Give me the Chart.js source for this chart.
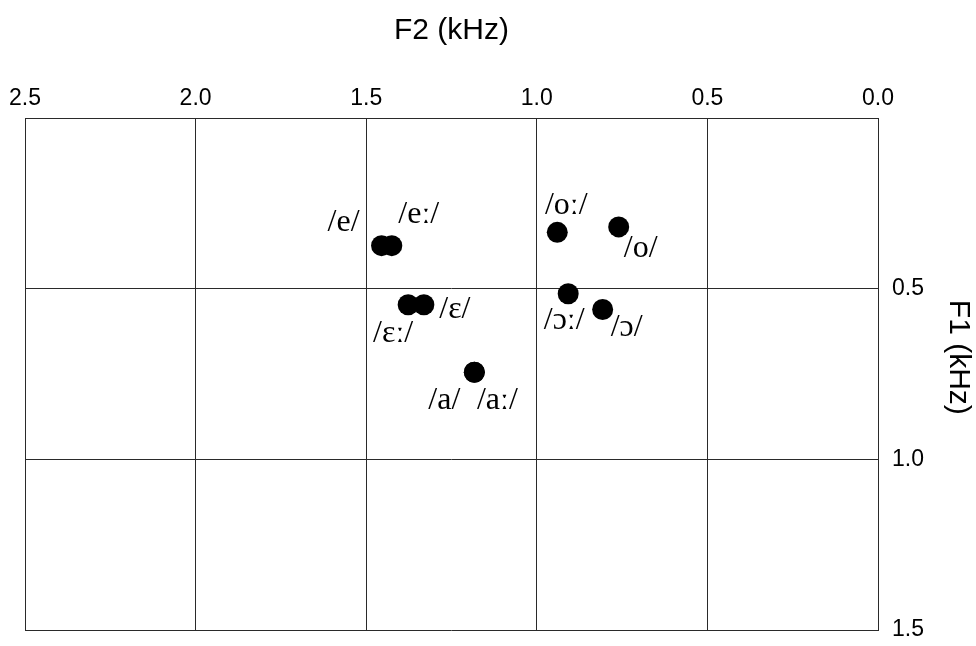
<!DOCTYPE html>
<html>
<head>
<meta charset="utf-8">
<script src="https://cdn.jsdelivr.net/npm/chart.js@4.4.1/dist/chart.umd.min.js"></script>
<style>
  html, body { margin: 0; padding: 0; background: #fff; }
  #wrap { width: 976px; height: 646px; position: relative; }
</style>
</head>
<body>
<div id="wrap"><canvas id="c" width="976" height="646"></canvas></div>
<script>
// Vowel labels
const vowels = ['/e/', '/eː/', '/ɛː/', '/ɛ/', '/a/', '/aː/', '/oː/', '/o/', '/ɔː/', '/ɔ/'];
// Second formant (kHz)
const f2 = [1.455, 1.425, 1.377, 1.331, 1.183, 1.183, 0.940, 0.760, 0.908, 0.807];
// First formant (kHz)
const f1 = [0.374, 0.374, 0.547, 0.547, 0.745, 0.745, 0.335, 0.319, 0.515, 0.561];
// Axis ticks
const xTicks = [0, 0.5, 1.0, 1.5, 2.0, 2.5];
const yTicks = [0, 0.5, 1.0, 1.5];

// label placement relative to each marker (pixels) - styling only
const labelOffsets = [[-38, -23], [27, -31], [-15, 29], [31, 5], [-30, 28], [23, 28], [9, -27], [22, 22], [-4, 27], [24, 18]];

const points = f2.map((v, i) => ({ x: v, y: f1[i] }));

const labelPlugin = {
  id: 'vowelLabels',
  afterDatasetsDraw(chart) {
    const ctx = chart.ctx;
    const meta = chart.getDatasetMeta(0);
    ctx.save();
    ctx.fillStyle = '#000';
    ctx.font = '32px "Liberation Serif", "Times New Roman", serif';
    ctx.textAlign = 'center';
    ctx.textBaseline = 'middle';
    meta.data.forEach((el, i) => {
      const o = labelOffsets[i];
      ctx.fillText(vowels[i], el.x + o[0], el.y + o[1]);
    });
    ctx.restore();
  }
};

const tickFont = { family: '"Liberation Sans Narrow", "Arial Narrow", "Liberation Sans", sans-serif', size: 23 };
const titleFont = { family: '"Liberation Sans", Arial, sans-serif', size: 30 };
const lineColor = '#2a2a2a';

new Chart(document.getElementById('c'), {
  type: 'scatter',
  data: {
    datasets: [{
      data: points,
      backgroundColor: '#000',
      borderWidth: 0,
      pointRadius: 10.5,
      pointHoverRadius: 10.5
    }]
  },
  options: {
    responsive: false,
    animation: false,
    devicePixelRatio: 1,
    events: [],
    layout: { padding: { left: 25, right: 0, top: 0, bottom: 16 } },
    plugins: { legend: { display: false }, tooltip: { enabled: false } },
    scales: {
      x: {
        type: 'linear',
        position: 'top',
        reverse: true,
        min: 0,
        max: 2.5,
        afterBuildTicks: s => { s.ticks = xTicks.map(v => ({ value: v })); },
        afterFit: s => { s.height = 118; s.paddingLeft = 0; s.paddingRight = 0; },
        ticks: {
          color: '#000',
          font: tickFont,
          padding: 6,
          maxRotation: 0,
          autoSkip: false,
          callback: v => Number(v).toFixed(1)
        },
        grid: { color: lineColor, lineWidth: 1, drawTicks: false },
        border: { display: true, color: lineColor, width: 1 },
        title: { display: true, text: 'F2 (kHz)', color: '#000', font: titleFont, padding: { top: 13, bottom: 0 } }
      },
      y: {
        type: 'linear',
        position: 'right',
        reverse: true,
        min: 0,
        max: 1.5,
        afterBuildTicks: s => { s.ticks = yTicks.map(v => ({ value: v })); },
        afterFit: s => { s.width = 98; s.paddingTop = 0; s.paddingBottom = 0; },
        ticks: {
          color: '#000',
          font: tickFont,
          padding: 14,
          autoSkip: false,
          callback: v => (Number(v) === 0 ? '' : Number(v).toFixed(1))
        },
        grid: { color: lineColor, lineWidth: 1, drawTicks: false },
        border: { display: true, color: lineColor, width: 1 },
        title: { display: true, text: 'F1 (kHz)    ', color: '#000', font: titleFont, padding: { top: 0, bottom: 0 } }
      }
    }
  },
  plugins: [labelPlugin]
});
</script>
</body>
</html>
